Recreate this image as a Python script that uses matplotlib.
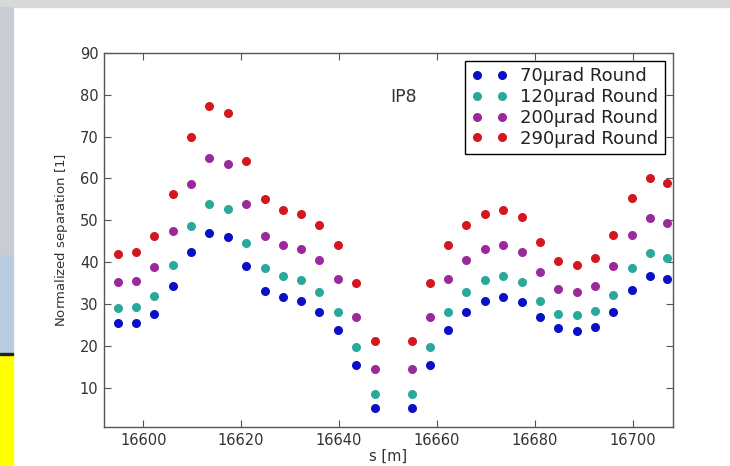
import matplotlib
matplotlib.use("Agg")
import matplotlib.pyplot as plt
from matplotlib.patches import Rectangle

# s positions [m] (the IP itself has no point)
s_pos = [16594.8, 16598.5, 16602.3, 16606.0, 16609.8, 16613.5, 16617.3, 16621.0,
         16624.8, 16628.5, 16632.3, 16636.0, 16639.8, 16643.5, 16647.3,
         16654.8, 16658.5, 16662.3, 16666.0, 16669.8, 16673.5, 16677.3, 16681.0,
         16684.8, 16688.5, 16692.3, 16696.0, 16699.8, 16703.5, 16707.0]

sep_70 = [25.4, 25.5, 27.7, 34.3, 42.5, 47.0, 46.0, 39.0, 33.2, 31.6, 30.8, 28.1,
          23.8, 15.5, 5.1, 5.1, 15.5, 23.8, 28.1, 30.8, 31.6, 30.5, 27.0, 24.2,
          23.6, 24.5, 28.1, 33.3, 36.6, 35.9]
sep_120 = [29.0, 29.3, 32.0, 39.4, 48.7, 54.0, 52.7, 44.7, 38.5, 36.7, 35.7, 32.8,
           28.2, 19.8, 8.6, 8.6, 19.8, 28.2, 32.8, 35.7, 36.7, 35.3, 30.8, 27.7,
           27.3, 28.3, 32.1, 38.6, 42.1, 41.0]
sep_200 = [35.3, 35.6, 38.9, 47.4, 58.7, 65.0, 63.5, 53.9, 46.3, 44.2, 43.2, 40.5,
           36.0, 26.8, 14.5, 14.5, 26.8, 36.0, 40.5, 43.2, 44.2, 42.5, 37.7, 33.5,
           32.8, 34.3, 39.2, 46.4, 50.6, 49.4]
sep_290 = [41.9, 42.5, 46.2, 56.4, 69.8, 77.3, 75.6, 64.1, 55.0, 52.5, 51.5, 48.8,
           44.1, 35.1, 21.2, 21.2, 35.1, 44.1, 48.8, 51.5, 52.5, 50.7, 44.9, 40.2,
           39.4, 41.0, 46.6, 55.4, 60.1, 58.9]

labels = ["70\u00b5rad Round", "120\u00b5rad Round", "200\u00b5rad Round", "290\u00b5rad Round"]
colors = ["#0a0fc8", "#2aa89c", "#9a2a9c", "#d4161e"]

fig = plt.figure(figsize=(7.3, 4.66), dpi=100)

# bits of the slide around the figure
fig.patches.append(Rectangle((0, 0.985), 1, 0.015, transform=fig.transFigure,
                             color="#d9d9d9", zorder=-5))
fig.patches.append(Rectangle((0, 0.45), 0.018, 0.535, transform=fig.transFigure,
                             color="#c9ccd2", zorder=-5))
fig.patches.append(Rectangle((0, 0.24), 0.018, 0.21, transform=fig.transFigure,
                             color="#b9cde0", zorder=-5))
fig.patches.append(Rectangle((0, 0), 0.018, 0.24, transform=fig.transFigure,
                             color="#ffff00", zorder=-5))
fig.patches.append(Rectangle((0, 0.238), 0.018, 0.004, transform=fig.transFigure,
                             color="#222222", zorder=-4))

ax = fig.add_axes([0.1425, 0.0837, 0.7795, 0.8026])
for vals, lab, col in zip([sep_70, sep_120, sep_200, sep_290], labels, colors):
    ax.plot(s_pos, vals, "o", color=col, markersize=6.5, markeredgewidth=0, label=lab)

ax.set_xlim(16592, 16708.2)
ax.set_ylim(0.6, 90)
ax.set_xticks([16600, 16620, 16640, 16660, 16680, 16700])
ax.set_yticks([10, 20, 30, 40, 50, 60, 70, 80, 90])
ax.tick_params(direction="in", top=True, right=True, length=5, width=0.8,
               colors="#555555", labelcolor="#333333", labelsize=10.5, pad=4)
for sp in ax.spines.values():
    sp.set_color("#555555")
    sp.set_linewidth(1.0)

ax.set_xlabel("s [m]", fontsize=10.5, color="#333333", labelpad=1)
ax.set_ylabel("Normalized separation [$1$]", fontsize=9.5, color="#333333", labelpad=7)
ax.text(0.526, 0.882, "IP8", transform=ax.transAxes, ha="center", va="center",
        fontsize=12.5, color="#333333")

leg = ax.legend(loc="upper right", numpoints=2, fontsize=13, fancybox=False,
                framealpha=1, borderpad=0.35, labelspacing=0.15, handlelength=2.0,
                handletextpad=0.7, borderaxespad=0.45)
leg.get_frame().set_edgecolor("black")
leg.get_frame().set_linewidth(1.0)
for t in leg.get_texts():
    t.set_color("#222222")

fig.savefig("out.png", dpi=100)
